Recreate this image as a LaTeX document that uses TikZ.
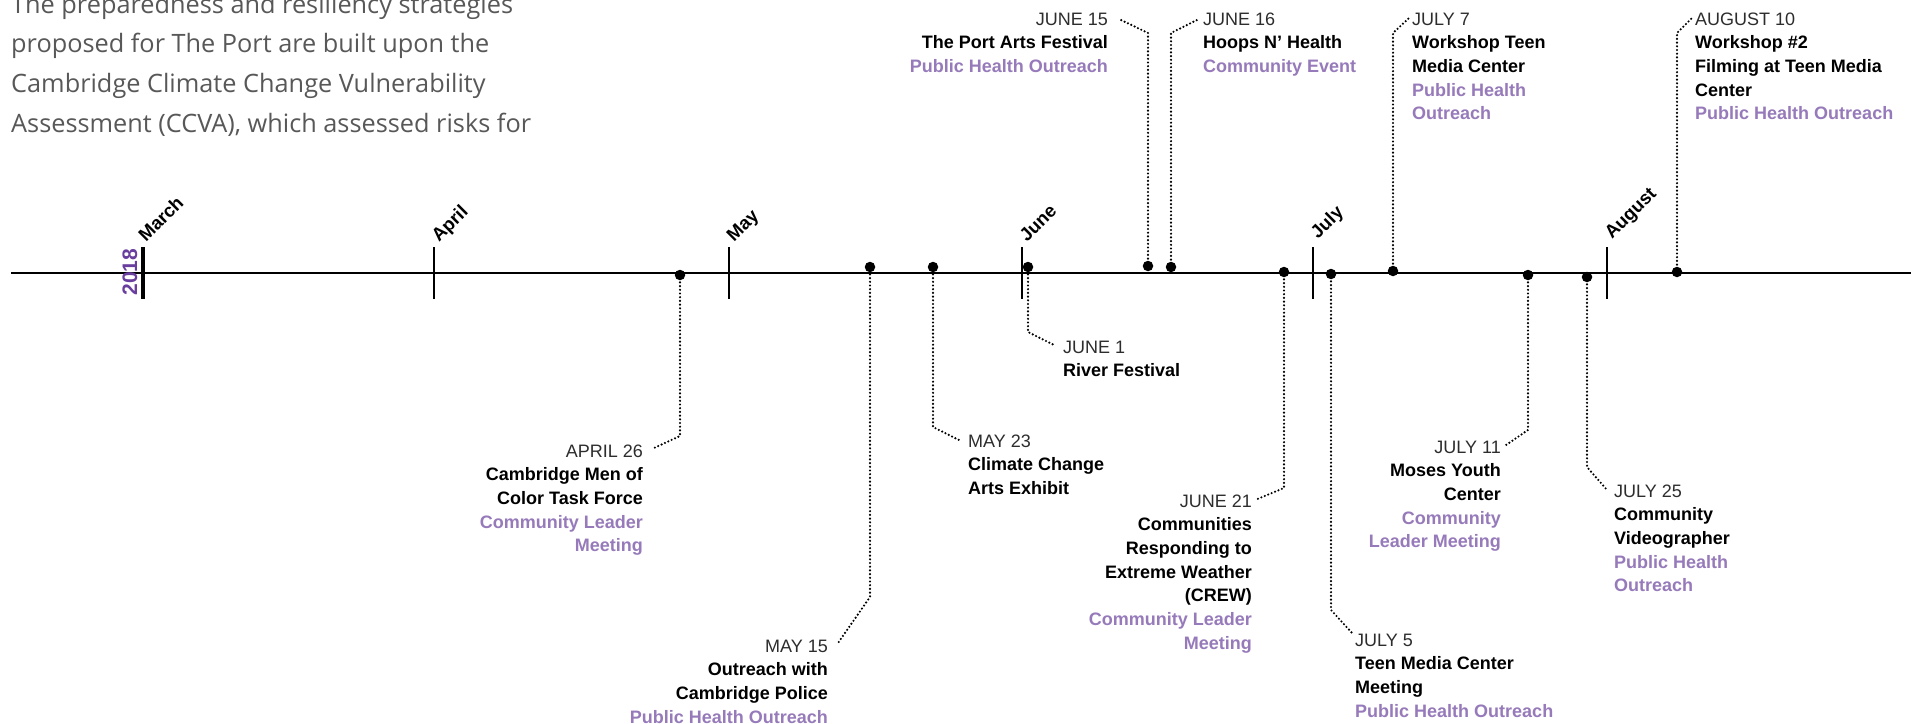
\documentclass[tikz,border=0pt]{standalone}
\usepackage{fontspec}
\setmainfont{Liberation Sans}
\newfontfamily\bodyfont{Open Sans}
\definecolor{datecol}{RGB}{45,45,45}
\definecolor{purp}{RGB}{150,122,186}
\definecolor{yearcol}{RGB}{105,62,158}
\definecolor{bodygray}{RGB}{88,88,88}
\newcommand\evfont{\fontsize{18}{23.7}\selectfont}
\newcommand\monthfont{\fontsize{18.5}{20}\selectfont\bfseries}
\newcommand\evdate[1]{\textcolor{datecol}{#1}}
\newcommand\evname[1]{\textbf{#1}}
\newcommand\evtype[1]{\textcolor{purp}{\textbf{#1}}}
\newcommand\lftab[1]{\begin{tabular}[t]{@{}l@{}}#1\end{tabular}}
\newcommand\rgtab[1]{\begin{tabular}[t]{@{}r@{}}#1\end{tabular}}
\tikzset{
  conn/.style={line width=2.4pt, line cap=round, dash pattern=on 0pt off 3.7pt},
  evdot/.style={circle, fill=black, inner sep=0pt, minimum size=10.5pt},
  evl/.style={inner sep=0pt, anchor=base west, font=\evfont},
  evr/.style={inner sep=0pt, anchor=base east, font=\evfont},
  monthlab/.style={inner sep=0pt, anchor=base west, rotate=45, font=\monthfont},
  monthtick/.style={line width=2pt},
}
\begin{document}
\begin{tikzpicture}[x=1pt,y=-1pt]
\useasboundingbox (0,0) rectangle (1911,723);
\fill[white] (0,0) rectangle (1911,723);

% body text
\node[inner sep=0pt, anchor=base west, font=\bodyfont\fontsize{25.3}{39.7}\selectfont, text=bodygray] (body) at (11,13)
 {\lftab{The preparedness and resiliency strategies\\proposed for The Port are built upon the\\Cambridge Climate Change Vulnerability\\Assessment (CCVA), which assessed risks for}};

% axis
\coordinate (axL) at (11,273);
\coordinate (axR) at (1911,273);
\draw[line width=2.4pt] (axL) -- (axR);

% month ticks
\draw[line width=4pt] (143,247) -- (143,299);
\foreach \mx in {434,729,1022,1313,1607}{\draw[monthtick] (\mx,247) -- (\mx,299);}

% month labels
\node[monthlab] (mMar) at (146,243) {March};
\node[monthlab] (mApr) at (439,243) {April};
\node[monthlab] (mMay) at (734,243) {May};
\node[monthlab] (mJun) at (1027,243) {June};
\node[monthlab] (mJul) at (1318,240) {July};
\node[monthlab] (mAug) at (1612,240) {August};
\node[inner sep=0pt, anchor=base, rotate=90, font=\fontsize{21}{22}\selectfont\bfseries, text=yearcol] (year) at (137,272) {2018};

% dots
\node[evdot] (dA26) at (680,275) {};
\node[evdot] (dM15) at (870,267) {};
\node[evdot] (dM23) at (933,267) {};
\node[evdot] (dJ01) at (1028,267) {};
\node[evdot] (dJ15) at (1148,266) {};
\node[evdot] (dJ16) at (1171,267) {};
\node[evdot] (dJ21) at (1284,272) {};
\node[evdot] (dL05) at (1331,274) {};
\node[evdot] (dL07) at (1393,271) {};
\node[evdot] (dL11) at (1528,275) {};
\node[evdot] (dL25) at (1587,277) {};
\node[evdot] (dG10) at (1677,272) {};

% connector ends
\coordinate (eA26) at (654,448);
\coordinate (eM15) at (838,643);
\coordinate (eM23) at (959,440);
\coordinate (eJ01) at (1054,345);
\coordinate (eJ15) at (1121,20);
\coordinate (eJ16) at (1197,20);
\coordinate (eJ21) at (1255,500);
\coordinate (eL05) at (1352,633);
\coordinate (eL07) at (1409,18);
\coordinate (eL11) at (1506,445);
\coordinate (eL25) at (1607,490);
\coordinate (eG10) at (1692,18);

% connectors
\draw[conn] (dA26.center) -- (680,436) -- (eA26);
\draw[conn] (dM15.center) -- (870,597) -- (eM15);
\draw[conn] (dM23.center) -- (933,427) -- (eM23);
\draw[conn] (dJ01.center) -- (1028,332) -- (eJ01);
\draw[conn] (dJ15.center) -- (1148,33) -- (eJ15);
\draw[conn] (dJ16.center) -- (1171,33) -- (eJ16);
\draw[conn] (dJ21.center) -- (1284,488) -- (eJ21);
\draw[conn] (dL05.center) -- (1331,610) -- (eL05);
\draw[conn] (dL07.center) -- (1393,33) -- (eL07);
\draw[conn] (dL11.center) -- (1528,430) -- (eL11);
\draw[conn] (dL25.center) -- (1587,467) -- (eL25);
\draw[conn] (dG10.center) -- (1677,33) -- (eG10);

% labels
\node[evr] (lA26) at (643,457) {\rgtab{\evdate{APRIL 26}\\\evname{Cambridge Men of}\\\evname{Color Task Force}\\\evtype{Community Leader}\\\evtype{Meeting}}};
\node[evr] (lM15) at (828,652) {\rgtab{\evdate{MAY 15}\\\evname{Outreach with}\\\evname{Cambridge Police}\\\evtype{Public Health Outreach}}};
\node[evl] (lM23) at (968,447) {\lftab{\evdate{MAY 23}\\\evname{Climate Change}\\\evname{Arts Exhibit}}};
\node[evl] (lJ01) at (1063,353) {\lftab{\evdate{JUNE 1}\\\evname{River Festival}}};
\node[evr] (lJ15) at (1108,25) {\rgtab{\evdate{JUNE 15}\\\evname{The Port Arts Festival}\\\evtype{Public Health Outreach}}};
\node[evl] (lJ16) at (1203,25) {\lftab{\evdate{JUNE 16}\\\evname{Hoops N’ Health}\\\evtype{Community Event}}};
\node[evr] (lJ21) at (1252,507) {\rgtab{\evdate{JUNE 21}\\\evname{Communities}\\\evname{Responding to}\\\evname{Extreme Weather}\\\evname{(CREW)}\\\evtype{Community Leader}\\\evtype{Meeting}}};
\node[evl] (lL05) at (1355,646) {\lftab{\evdate{JULY 5}\\\evname{Teen Media Center}\\\evname{Meeting}\\\evtype{Public Health Outreach}}};
\node[evl] (lL07) at (1412,25) {\lftab{\evdate{JULY 7}\\\evname{Workshop Teen}\\\evname{Media Center}\\\evtype{Public Health}\\\evtype{Outreach}}};
\node[evr] (lL11) at (1501,453) {\rgtab{\evdate{JULY 11}\\\evname{Moses Youth}\\\evname{Center}\\\evtype{Community}\\\evtype{Leader Meeting}}};
\node[evl] (lL25) at (1614,497) {\lftab{\evdate{JULY 25}\\\evname{Community}\\\evname{Videographer}\\\evtype{Public Health}\\\evtype{Outreach}}};
\node[evl] (lG10) at (1695,25) {\lftab{\evdate{AUGUST 10}\\\evname{Workshop \#2}\\\evname{Filming at Teen Media}\\\evname{Center}\\\evtype{Public Health Outreach}}};
\end{tikzpicture}
\end{document}
